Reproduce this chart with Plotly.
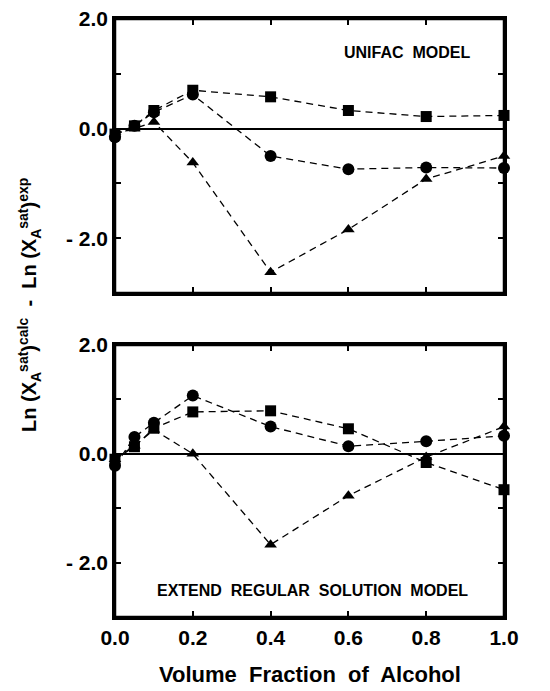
import plotly.graph_objects as go
from plotly.subplots import make_subplots

# target picture size; the page body keeps the browser's default 8px margin
W, H = 550, 691
OFF = 8
FW, FH = W - OFF, H - OFF

def px(x):
    return (x - OFF) / FW

def py(y):
    return 1 - (y - OFF) / FH

volume_fraction = [0.0, 0.05, 0.1, 0.2, 0.4, 0.6, 0.8, 1.0]

# UNIFAC model (top panel)
unifac_square = [-0.10, 0.05, 0.33, 0.70, 0.58, 0.33, 0.22, 0.24]
unifac_circle = [-0.16, 0.05, 0.30, 0.62, -0.50, -0.74, -0.71, -0.72]
unifac_triangle = [-0.10, 0.00, 0.12, -0.62, -2.62, -1.84, -0.92, -0.50]

# Extended regular solution model (bottom panel)
ers_square = [-0.10, 0.13, 0.47, 0.77, 0.79, 0.46, -0.16, -0.66]
ers_circle = [-0.22, 0.31, 0.57, 1.07, 0.50, 0.14, 0.23, 0.33]
ers_triangle = [-0.10, 0.15, 0.44, 0.00, -1.67, -0.77, -0.06, 0.50]

x_tickvals = [0.0, 0.2, 0.4, 0.6, 0.8, 1.0]
x_ticktext = ["0.0", "0.2", "0.4", "0.6", "0.8", "1.0"]
y_tickvals = [-2, -1, 0, 1, 2]
y_ticktext = ["- 2.0", " ", "0.0", " ", "2.0"]

FONT = "Liberation Sans, Arial, sans-serif"

fig = make_subplots(rows=2, cols=1)

def add_series(row, ys, symbol, size):
    fig.add_trace(go.Scatter(
        x=volume_fraction, y=ys, mode="lines+markers",
        line=dict(color="black", width=1.3, dash="7px,5px"),
        marker=dict(symbol=symbol, size=size, color="black"),
        showlegend=False, cliponaxis=False), row=row, col=1)

add_series(1, unifac_square, "square", 11)
add_series(1, unifac_circle, "circle", 12)
add_series(1, unifac_triangle, "triangle-up", 11)
add_series(2, ers_square, "square", 11)
add_series(2, ers_circle, "circle", 12)
add_series(2, ers_triangle, "triangle-up", 11)

xdom = [px(115), px(504)]
top_dom = [py(293), py(19)]
bot_dom = [py(617), py(345)]

axis_common = dict(
    showline=True, linecolor="black", linewidth=2.5, mirror="allticks",
    ticks="inside", ticklen=6, tickwidth=2, tickcolor="black",
    showgrid=False, automargin=False, ticklabeloverflow="allow",
    tickfont=dict(family=FONT, size=21, color="black", weight="bold"),
)

fig.update_xaxes(range=[0, 1.0], tickvals=x_tickvals, domain=xdom,
                 zeroline=False, **axis_common)
fig.update_xaxes(showticklabels=False, row=1, col=1)
fig.update_xaxes(ticktext=x_ticktext, showticklabels=True, row=2, col=1)
fig.update_yaxes(range=[-3, 2], tickvals=y_tickvals, ticktext=y_ticktext,
                 zeroline=True, zerolinecolor="black", zerolinewidth=2,
                 **axis_common)
fig.update_yaxes(domain=top_dom, row=1, col=1)
fig.update_yaxes(domain=bot_dom, row=2, col=1)

# explicit frames around both panels
for dom in (top_dom, bot_dom):
    fig.add_shape(type="rect", xref="paper", yref="paper",
                  x0=xdom[0], x1=xdom[1], y0=dom[0], y1=dom[1],
                  line=dict(color="black", width=2.5), layer="above")

ylabel = ("Ln (X<sub>A</sub><sup>sat</sup>)<sup>calc</sup>  -  "
          "Ln (X<sub>A</sub><sup>sat</sup>)<sup>exp</sup>")

fig.update_layout(
    width=FW, height=FH,
    margin=dict(l=0, r=0, t=0, b=0, autoexpand=False),
    paper_bgcolor="white", plot_bgcolor="white",
    annotations=[
        dict(text="UNIFAC  MODEL", xref="paper", yref="paper",
             x=px(472), y=py(52), xanchor="right", yanchor="middle",
             showarrow=False,
             font=dict(family=FONT, size=16, color="black", weight="bold")),
        dict(text="EXTEND  REGULAR  SOLUTION  MODEL", xref="paper", yref="paper",
             x=px((133 + 492) / 2), y=py(590), xanchor="center", yanchor="middle",
             showarrow=False,
             font=dict(family=FONT, size=16, color="black", weight="bold")),
        dict(text="Volume  Fraction  of  Alcohol", xref="paper", yref="paper",
             x=px(310), y=py(674), xanchor="center", yanchor="middle",
             showarrow=False,
             font=dict(family=FONT, size=22, color="black", weight="bold")),
        dict(text=ylabel, xref="paper", yref="paper",
             x=px(30), y=py(305), xanchor="center", yanchor="middle",
             textangle=-90, showarrow=False,
             font=dict(family=FONT, size=20, color="black", weight="bold")),
    ],
)

fig.write_html("out.html", config={"displayModeBar": False})
